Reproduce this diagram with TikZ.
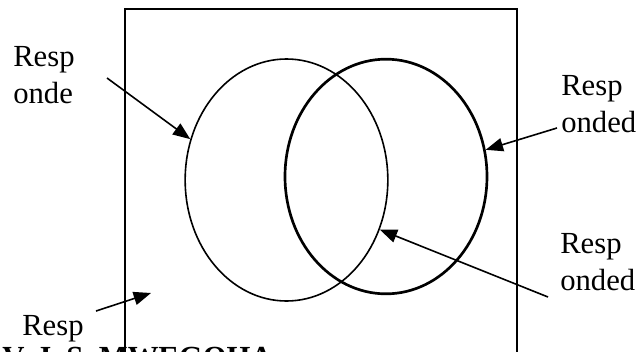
\documentclass[tikz,border=0pt]{standalone}
\usepackage{fontspec}
\setmainfont{Liberation Serif}
\usetikzlibrary{arrows.meta,shapes.geometric}
\tikzset{
  set/.style={draw,ellipse,line width=1.2pt,inner sep=0pt},
  setb/.style={set,line width=2pt},
  lab/.style={anchor=base west,inner sep=0pt,align=left,
              font=\fontsize{23}{27.75}\selectfont},
  arr/.style={-{Triangle[length=13pt,width=10pt]},line width=1.2pt}
}

\begin{document}
\begin{tikzpicture}[x=0.75pt,y=-0.75pt]
    \useasboundingbox (0,0) rectangle (637,351);
    % frame
    \draw[line width=1.3pt] (125,380) -- (125,9) -- (517,9) -- (517,380);
    % the two sets
    \node[set,minimum width=152pt,minimum height=181.5pt] (left) at (286.5,180) {};
    \node[setb,minimum width=151.5pt,minimum height=176pt] (right) at (386,176.5) {};
    % labels
    \node[lab] (lresp) at (13,103) {Resp\\onde};
    \node[lab] (rtop) at (561,132) {Resp\\onded};
    \node[lab] (rbot) at (560,290) {Resp\\onded};
    \node[lab] (lbot) at (22,335) {Resp};
    \node[lab] (author) at (2,367) {\textbf{V. J. S. MWEGOHA}};
    % arrow tails
    \coordinate (t1) at (107,78);
    \coordinate (t2) at (557,128);
    \coordinate (t3) at (548,297);
    \coordinate (t4) at (96,311);
    \coordinate (h4) at (151,293);
    \draw[arr] (t1) -- (left.157);
    \draw[arr] (t2) -- (right.15);
    \draw[arr] (t3) -- (left.-28);
    \draw[arr] (t4) -- (h4);
\end{tikzpicture}
\end{document}
